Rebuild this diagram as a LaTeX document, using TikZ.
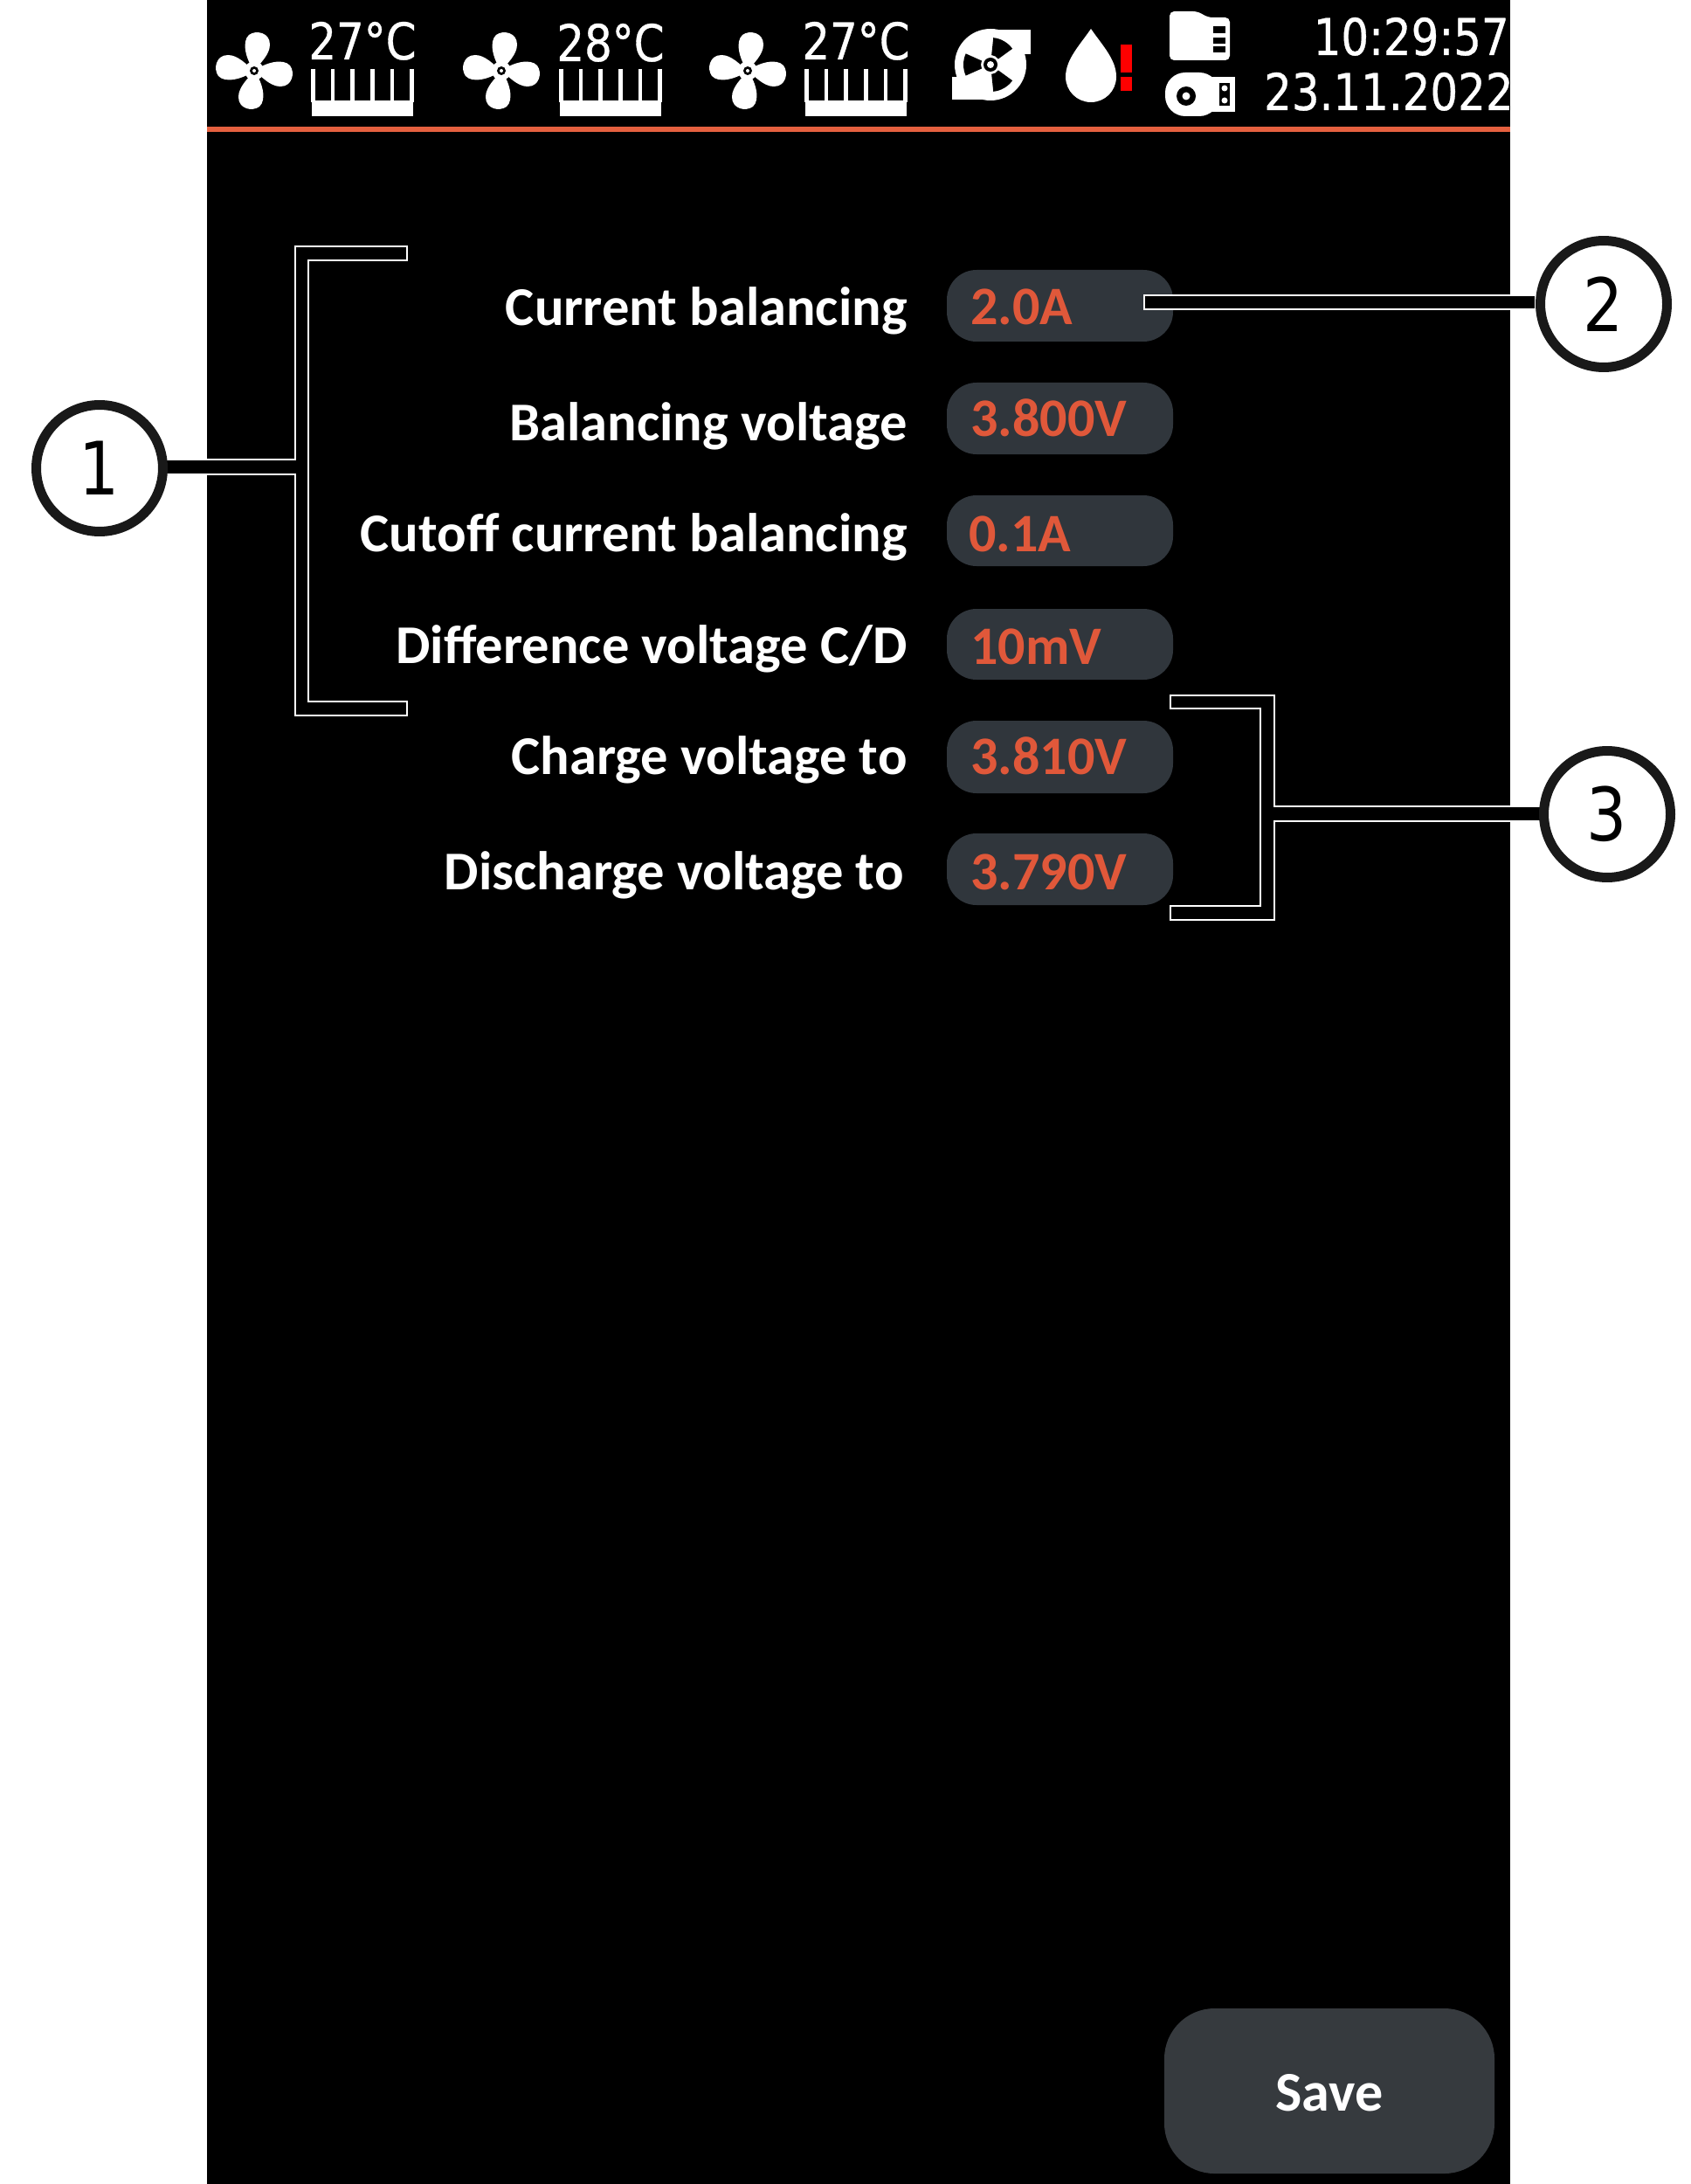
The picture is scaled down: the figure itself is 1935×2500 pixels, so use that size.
\documentclass[tikz,border=0pt]{standalone}
\usepackage{fontspec}
\setmainfont{Carlito}
\newfontfamily\hdr[FakeStretch=0.86,FakeBold=0.6]{DejaVu Sans}
\newfontfamily\num[FakeStretch=0.86]{DejaVu Sans}
\definecolor{pill}{HTML}{30363C}
\definecolor{savebg}{HTML}{363A3E}
\definecolor{accent}{HTML}{E0583A}
\definecolor{rulecol}{HTML}{E5603F}
\tikzset{
  x=0.02cm,y=-0.02cm,
  pillbox/.style={fill=pill,rounded corners=34*0.02cm},
  lab/.style={anchor=base east,inner sep=0,text=white,font=\fontsize{35.6}{36}\selectfont\bfseries},
  val/.style={anchor=base west,inner sep=0,text=accent,font=\fontsize{35.3}{36}\selectfont\bfseries},
  hd/.style={inner sep=0,text=white,font=\hdr\fontsize{33}{33}\selectfont},
  callout/.style={circle,draw=black!90,line width=0.22cm,fill=white,minimum size=2.9cm,inner sep=0,font=\num\fontsize{48}{48}\selectfont},
  bracketline/.style={fill=black,draw=white,line width=0.05cm,line join=miter},
  fin/.style={draw=white,line width=0.09cm},
}
\newcommand{\fanblade}[1]{%
  \begin{scope}[rotate around={#1:(0,0)}]
    \fill[white] (0,0) .. controls (6,-8) and (18,-18) .. (18,-30) .. controls (18,-44) and (2,-47) .. (-6,-41) .. controls (-15,-33) and (-9,-12) .. (0,0) -- cycle;
  \end{scope}}
\newcommand{\fanicon}[2]{%
  \begin{scope}[shift={(#1,#2)}]
    \fanblade{0}\fanblade{90}\fanblade{180}\fanblade{270}
    \fill[white] (0,0) circle (11);
    \fill[black] (0,0) circle (5);
    \fill[white] (0,0) circle (2);
  \end{scope}}
\newcommand{\sinkicon}[2]{%
  \begin{scope}[shift={(#1,#2)}]
    \fill[white] (0,36) rectangle (116,54);
    \foreach \i in {0,1,2,3,4,5}{\draw[fin] (1.5+\i*22.6,0) -- (1.5+\i*22.6,38);}
  \end{scope}}
\begin{document}
\begin{tikzpicture}
\useasboundingbox (0,0) rectangle (1935,2500);
\fill[white] (0,0) rectangle (1935,2500);
\fill[black] (237,0) rectangle (1729,2500);
\fill[rulecol] (237,145) rectangle (1729,151);

% header icons
\fanicon{291}{81}\fanicon{574}{81}\fanicon{856}{81}
\sinkicon{357}{79}\sinkicon{641}{79}\sinkicon{922}{79}
\node[hd,anchor=base west] (t1) at (353,68) {27°C};
\node[hd,anchor=base west] (t2) at (637,70) {28°C};
\node[hd,anchor=base west] (t3) at (918,68) {27°C};

% reel
\begin{scope}[shift={(1134,74)}]
  \fill[white] (0,0) circle (41);
  \fill[white] (0,-40) rectangle (46,-12);
  \fill[white] (-44,14) rectangle (0,40);
  \foreach \a in {-60,60,180}{
    \fill[black] (\a-24:11) -- (\a-24:31) arc[start angle=\a-24,end angle=\a+24,radius=31] -- (\a+24:11) arc[start angle=\a+24,end angle=\a-24,radius=11] -- cycle;}
  \fill[black] (0,0) circle (8);
  \fill[white] (0,0) circle (4);
\end{scope}

% droplet and warning
\fill[white] (1249,33) .. controls (1236,52) and (1220,68) .. (1220,88) arc[start angle=180,end angle=0,radius=29] .. controls (1278,68) and (1262,52) .. (1249,33) -- cycle;
\fill[red] (1283,51) rectangle (1296,83);
\fill[red] (1283,88) rectangle (1296,104);

% SD card
\fill[white,rounded corners=3] (1339,13) -- (1371,13) -- (1383,20) -- (1408,20) -- (1408,69) -- (1339,69) -- cycle;
\fill[black] (1389,30) rectangle (1403,38);
\fill[black] (1389,43) rectangle (1403,50);
\fill[black] (1389,53) rectangle (1403,60);

% USB stick
\fill[white,rounded corners=0.46cm] (1334,83) rectangle (1396,133);
\fill[white] (1380,88) rectangle (1414,128);
\fill[black] (1358,110) circle (11);
\fill[white] (1358,110) circle (4.5);
\fill[black] (1396,95) rectangle (1408,121);
\fill[white] (1402,101) circle (3.5);
\fill[white] (1402,115) circle (3.5);

% clock
\node[hd,anchor=base east] (clock) at (1728,63) {10:29:57};
\node[hd,anchor=base east] (date) at (1733,126) {23.11.2022};

% labels
\node[lab] (l1) at (1039,373) {Current balancing};
\node[lab] (l2) at (1039,504) {Balancing voltage};
\node[lab] (l3) at (1039,631) {Cutoff current balancing};
\node[lab] (l4) at (1039,759) {Difference voltage C/D};
\node[lab] (l5) at (1039,886) {Charge voltage to};
\node[lab] (l6) at (1035,1018) {Discharge voltage to};

% pills
\path[pillbox] (1084,309) rectangle (1343,391);
\path[pillbox] (1084,438) rectangle (1343,520);
\path[pillbox] (1084,567) rectangle (1343,648);
\path[pillbox] (1084,697) rectangle (1343,778);
\path[pillbox] (1084,825) rectangle (1343,908);
\path[pillbox] (1084,954) rectangle (1343,1036);
\node[val] (v1) at (1111,372) {2.0A};
\node[val] (v2) at (1111,499) {3.800V};
\node[val] (v3) at (1109,631) {0.1A};
\node[val] (v4) at (1111,760) {10mV};
\node[val] (v5) at (1111,886) {3.810V};
\node[val] (v6) at (1111,1018) {3.790V};

% save
\path[fill=savebg,rounded corners=1.15cm] (1333,2299) rectangle (1711,2488);
\node[inner sep=0,text=white,font=\fontsize{36.5}{37}\selectfont\bfseries] (save) at (1522,2396) {Save};

% callouts
\coordinate (b1a) at (190,526); \coordinate (b1b) at (190,543);
\coordinate (b2a) at (1758,338); \coordinate (b2b) at (1758,354);
\coordinate (b3a) at (1765,923); \coordinate (b3b) at (1765,940);
\draw[bracketline] (466,282) -- (338,282) -- (338,526) -- (b1a) -- (b1b) -- (338,543) -- (338,819) -- (466,819) -- (466,803) -- (353,803) -- (353,298) -- (466,298) -- cycle;
\draw[bracketline] (b2a) -- (1310,338) -- (1310,354) -- (b2b) -- cycle;
\draw[bracketline] (1340,796) -- (1459,796) -- (1459,923) -- (b3a) -- (b3b) -- (1459,940) -- (1459,1053) -- (1340,1053) -- (1340,1037) -- (1443,1037) -- (1443,811) -- (1340,811) -- cycle;
\node[callout] (c1) at (114,536) {1};
\node[callout] (c2) at (1836,348) {2};
\node[callout] (c3) at (1840,932) {3};
\end{tikzpicture}
\end{document}
